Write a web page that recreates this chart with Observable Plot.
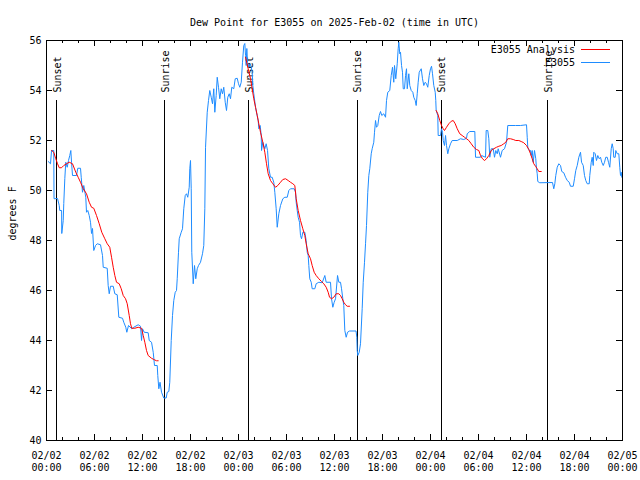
<!DOCTYPE html>
<html>
<head>
<meta charset="utf-8">
<script src="https://cdn.jsdelivr.net/npm/d3@7"></script>
<script src="https://cdn.jsdelivr.net/npm/@observablehq/plot@0.6"></script>
<style>
  html, body { margin: 0; padding: 0; background: #fff; }
  #chart { width: 640px; height: 480px; }
</style>
</head>
<body>
<div id="chart"></div>
<script>
// ---- Data (hours since 2025-02-02 00:00 UTC, dew point in °F) ----
const startUTC = Date.UTC(2025, 1, 2, 0, 0);
const endUTC = Date.UTC(2025, 1, 5, 0, 0);

const obsHours = [
0.21,0.5,0.63,0.91,0.94,1.38,1.59,1.66,1.89,1.91,2.09,2.16,2.29,2.41,2.59,2.75,2.91,3.04,3.13,3.25,
3.75,3.91,4.25,4.34,4.5,4.66,4.91,5.0,5.16,5.34,5.5,5.63,5.75,5.91,6.13,6.34,6.75,7.0,7.09,7.59,
7.71,7.84,8.0,8.34,8.54,8.84,9.04,9.5,9.66,9.91,10.04,10.25,10.66,10.91,11.46,11.75,11.88,12.0,12.21,12.71,
12.84,13.13,13.34,13.5,13.84,13.91,14.04,14.19,14.38,14.66,14.96,15.09,15.29,15.41,15.59,15.75,15.91,16.09,16.25,16.34,
16.5,16.59,16.84,17.0,17.16,17.34,17.5,17.66,17.84,17.91,18.0,18.09,18.16,18.34,18.5,18.66,18.84,19.0,19.25,19.5,
19.66,19.79,19.88,20.09,20.25,20.41,20.59,20.75,20.91,21.04,21.21,21.34,21.5,21.66,21.84,22.0,22.16,22.34,22.5,22.66,
22.84,23.0,23.16,23.41,23.59,23.84,24.0,24.16,24.34,24.5,24.66,24.79,24.88,24.96,25.04,25.13,25.29,25.5,25.71,25.79,
25.91,26.13,26.25,26.46,26.54,26.71,26.84,26.88,27.04,27.16,27.29,27.46,27.63,27.79,28.0,28.21,28.41,28.54,28.71,28.84,
29.04,29.25,29.54,29.79,30.09,30.29,30.5,30.96,31.13,31.21,31.34,31.46,31.63,31.75,31.88,32.04,32.29,32.46,32.59,32.71,
32.79,32.91,33.09,33.21,33.54,33.71,34.04,34.46,34.79,34.96,35.5,35.63,35.79,35.96,36.13,36.38,36.54,36.75,36.88,37.04,
37.16,37.29,37.46,37.63,37.88,38.69,38.79,38.84,38.91,39.09,39.25,39.46,39.59,39.75,39.88,40.0,40.16,40.29,40.41,40.59,
40.71,40.91,41.0,41.13,41.25,41.41,41.59,41.75,41.91,42.16,42.38,42.5,42.66,42.91,43.09,43.25,43.41,43.5,43.66,43.84,
43.96,44.04,44.16,44.25,44.38,44.5,44.59,44.75,44.88,45.0,45.09,45.29,45.41,45.59,45.79,45.91,46.09,46.21,46.34,46.46,
46.59,46.84,47.0,47.16,47.34,47.5,47.66,47.84,48.0,48.13,48.25,48.41,48.59,48.66,48.71,48.91,48.96,49.25,49.38,49.5,
49.59,49.75,49.88,50.0,50.16,50.29,50.5,50.71,51.34,51.75,52.16,52.5,52.59,52.91,53.54,53.63,54.25,54.38,54.88,54.96,
55.16,55.29,55.41,55.59,55.84,56.0,56.16,56.34,56.46,56.75,56.96,57.25,57.5,57.66,58.63,59.25,60.0,60.09,60.16,60.34,
60.5,60.59,60.71,60.84,61.0,61.16,61.25,61.34,61.41,61.66,63.25,63.41,63.54,63.66,63.84,64.04,64.25,64.41,64.66,64.88,
65.09,65.34,65.5,65.84,66.0,66.16,66.34,66.54,66.75,66.88,67.09,67.25,67.41,67.59,67.84,67.91,68.09,68.21,68.34,68.41,
68.59,68.75,68.91,69.09,69.25,69.41,69.59,69.75,69.91,70.09,70.25,70.41,70.59,70.71,70.84,70.91,71.09,71.16,71.34,71.54,
71.66,71.75,71.84,71.91
];
const obsValues = [
51.16,51.07,51.6,51.6,49.67,49.68,49.4,49.2,49.2,48.28,48.8,49.48,50.48,51.13,50.93,51.2,51.4,51.6,51.13,50.6,
50.6,50.89,50.89,50.53,49.93,50.2,49.73,49.13,49.2,49.0,48.73,48.28,48.48,47.6,47.8,47.87,47.83,47.4,46.93,46.89,
46.2,45.87,46.17,46.17,45.87,45.83,44.93,44.89,44.73,44.53,44.33,44.6,44.47,44.53,44.63,44.57,44.0,44.47,44.33,44.31,
44.0,43.93,43.53,43.0,43.0,42.6,42.07,42.33,41.93,41.7,41.7,41.93,41.96,42.33,44.0,45.0,45.6,45.93,46.0,46.47,
47.53,48.07,48.33,48.47,49.27,49.8,49.87,49.73,50.13,50.87,51.2,50.07,47.53,46.27,47.0,46.47,46.87,47.0,47.13,47.47,
47.8,49.27,51.73,53.13,53.6,54.0,53.73,53.47,54.07,53.13,53.8,54.53,54.13,53.67,54.07,53.87,54.13,53.53,53.2,53.73,
53.87,53.67,54.13,54.07,54.47,54.49,54.27,54.13,54.33,55.13,55.8,55.88,55.4,55.0,55.68,55.12,54.93,55.07,54.73,54.2,
53.87,53.33,53.13,52.8,52.47,52.6,52.2,51.6,51.93,51.8,51.67,51.87,51.6,50.87,50.53,50.53,50.33,49.93,49.27,48.53,
49.07,49.4,49.67,49.73,49.73,50.0,50.07,50.07,49.93,49.53,49.2,48.93,48.73,48.2,48.07,48.33,48.33,48.0,47.53,47.4,
47.0,46.47,46.33,46.07,46.07,46.27,46.33,46.31,46.6,46.33,46.33,45.67,45.33,45.53,45.67,46.6,46.33,46.33,46.07,45.67,
45.4,44.4,44.13,44.33,44.38,44.38,44.13,43.6,43.4,43.53,43.87,45.27,46.33,47.13,47.87,48.6,49.93,50.6,50.87,51.47,
51.67,51.93,52.33,52.8,52.53,52.6,53.0,53.16,53.0,53.07,52.93,53.6,53.93,54.0,54.6,54.93,54.33,55.0,54.47,55.07,
55.67,55.93,55.47,55.53,55.0,54.73,54.07,54.07,54.6,54.87,54.07,54.67,54.2,54.0,53.93,53.73,53.6,53.4,53.87,54.33,
54.73,54.87,54.47,54.2,54.33,54.27,54.13,54.6,54.87,54.97,54.67,54.2,53.93,53.6,53.2,53.0,52.2,52.2,52.47,52.33,
52.0,51.8,52.2,51.8,51.47,51.67,51.87,52.0,52.0,52.07,52.04,52.09,52.27,52.36,52.36,51.33,51.33,51.4,51.33,52.4,
52.4,52.07,51.33,51.67,51.67,51.33,51.6,51.47,51.67,51.33,51.6,51.67,51.93,52.6,52.6,52.6,52.63,52.13,51.73,51.6,
51.6,51.4,51.6,51.13,51.6,51.27,50.87,50.67,50.36,50.31,50.32,50.07,50.27,50.6,50.93,51.07,51.0,50.76,50.71,50.53,
50.4,50.33,50.17,50.17,50.47,50.8,51.0,51.33,51.53,51.13,51.0,50.6,50.4,50.27,50.27,50.6,51.13,51.33,51.0,51.53,
51.47,51.2,51.4,51.27,51.33,51.13,51.0,51.13,51.33,51.33,51.13,50.93,51.67,51.87,51.67,51.33,51.33,51.6,51.47,51.47,
50.93,50.6,50.73,50.53
];

// Analysis runs (three separate segments)
const ana1Hours = [0.63,0.91,1.16,1.38,1.59,1.88,2.16,2.5,2.84,3.25,3.66,3.96,4.25,4.59,5.0,5.34,5.63,5.91,6.25,6.59,6.91,7.29,7.59,7.91,8.13,8.34,8.54,8.75,9.09,9.34,9.59,9.88,10.09,10.34,10.5,10.66,11.04,11.46,11.88,12.09,12.29,12.5,12.71,13.13,13.41,13.75,13.96];
const ana1Values = [51.6,51.53,51.27,51.07,50.91,50.91,51.0,51.07,51.13,51.07,50.73,50.53,50.33,50.07,49.87,49.53,49.33,49.29,49.0,48.67,48.33,48.07,47.87,47.73,47.33,46.93,46.6,46.33,46.27,46.07,45.8,45.67,45.47,45.0,44.67,44.49,44.49,44.53,44.49,44.2,43.93,43.6,43.4,43.29,43.24,43.19,43.19];
const ana2Hours = [24.88,25.21,25.5,25.71,25.91,26.13,26.34,26.54,26.75,27.04,27.29,27.5,27.71,28.0,28.29,28.63,28.91,29.25,29.54,29.88,30.21,30.5,30.79,31.04,31.21,31.46,31.75,32.04,32.29,32.46,32.71,33.0,33.21,33.46,33.71,34.04,34.38,34.66,34.96,35.21,35.38,35.63,35.91,36.21,36.54,36.75,36.96,37.16,37.38,37.59,37.88];
const ana2Values = [55.33,54.87,54.47,54.07,53.67,53.33,53.0,52.67,52.33,51.93,51.53,51.07,50.67,50.4,50.27,50.13,50.2,50.33,50.44,50.47,50.4,50.33,50.27,50.2,49.67,49.2,48.8,48.47,48.2,47.87,47.47,47.27,47.0,46.73,46.6,46.47,46.36,46.27,46.13,45.93,45.73,45.67,45.73,45.87,45.87,45.8,45.67,45.53,45.43,45.37,45.37];
const ana3Hours = [48.71,48.91,49.16,49.38,49.59,49.75,50.0,50.29,50.59,50.84,51.09,51.34,51.66,51.96,52.25,52.5,52.79,53.09,53.41,53.75,54.04,54.25,54.5,54.75,55.0,55.29,55.59,55.91,56.25,56.54,56.84,57.16,57.41,57.66,58.0,58.34,58.66,59.04,59.34,59.66,60.0,60.29,60.5,60.71,60.91,61.13,61.34,61.54,61.84];
const ana3Values = [53.2,53.07,52.8,52.6,52.47,52.4,52.53,52.67,52.77,52.8,52.67,52.47,52.27,52.2,52.13,52.07,52.0,51.87,51.73,51.64,51.6,51.4,51.27,51.2,51.27,51.4,51.6,51.67,51.73,51.77,51.8,51.87,51.93,52.07,52.07,52.04,52.0,52.0,51.96,51.91,51.8,51.64,51.47,51.27,51.07,50.97,50.87,50.76,50.76];

// Sunrise / sunset events
const eventHours = [1.25, 14.8, 25.3, 38.83, 49.33, 62.67];
const eventLabels = ["Sunset", "Sunrise", "Sunset", "Sunrise", "Sunset", "Sunrise"];

const yTicks = [40, 42, 44, 46, 48, 50, 52, 54, 56];
const titleText = "Dew Point for E3055 on 2025-Feb-02 (time in UTC)";
const yLabel = "degrees F";
const seriesNames = ["E3055 Analysis", "E3055"];
const seriesColors = ["#ff0000", "#1e8cff"];

// ---- Build tables ----
const toDate = h => new Date(startUTC + h * 3600e3);
const obs = obsHours.map((h, i) => ({t: toDate(h), v: obsValues[i]}));
const ana = [];
[[ana1Hours, ana1Values], [ana2Hours, ana2Values], [ana3Hours, ana3Values]].forEach(([hs, vs], r) =>
  hs.forEach((h, i) => ana.push({t: toDate(h), v: vs[i], run: r})));
const events = eventHours.map((h, i) => ({t: toDate(h), label: eventLabels[i]}));

const majorTicks = d3.utcHour.every(6).range(new Date(startUTC), new Date(endUTC + 1));
const minorTicks = d3.utcHour.every(2).range(new Date(startUTC), new Date(endUTC + 1));

const W = 640, H = 480, mL = 46, mR = 18, mT = 40, mB = 40;
const frameH = H - mT - mB, frameW = W - mL - mR;
const font = "DejaVu Sans Mono, monospace";
const crisp = {shapeRendering: "crispEdges"};

const legendMark = () => {
  const g = d3.create("svg:g").attr("font-family", font).attr("font-size", 10);
  seriesNames.forEach((name, i) => {
    const y = 49.5 + i * 13;
    g.append("text").attr("x", 575).attr("y", y).attr("dy", "0.32em")
      .attr("text-anchor", "end").attr("fill", "black").text(name);
    g.append("line").attr("x1", 581).attr("x2", 610).attr("y1", y).attr("y2", y)
      .attr("stroke", seriesColors[i]).attr("stroke-width", 1).attr("shape-rendering", "crispEdges");
  });
  return g.node();
};

const chart = Plot.plot({
  width: W, height: H,
  marginLeft: mL, marginRight: mR, marginTop: mT, marginBottom: mB,
  style: {fontFamily: font, fontSize: "10px", background: "white", color: "black"},
  x: {type: "utc", domain: [new Date(startUTC), new Date(endUTC)]},
  y: {domain: [40, 56]},
  marks: [
    // ticks (inward, gnuplot style)
    Plot.tickX(majorTicks, {x: d => d, insetTop: frameH - 6, stroke: "black", ...crisp}),
    Plot.tickX(majorTicks, {x: d => d, insetBottom: frameH - 6, stroke: "black", ...crisp}),
    Plot.tickX(minorTicks, {x: d => d, insetTop: frameH - 3, stroke: "black", ...crisp}),
    Plot.tickX(minorTicks, {x: d => d, insetBottom: frameH - 3, stroke: "black", ...crisp}),
    Plot.tickY(yTicks, {y: d => d, insetRight: frameW - 6, stroke: "black", ...crisp}),
    Plot.tickY(yTicks, {y: d => d, insetLeft: frameW - 6, stroke: "black", ...crisp}),
    Plot.axisX(majorTicks, {
      anchor: "bottom", tickSize: 0, tickPadding: 10, label: null, lineHeight: 1.2,
      tickFormat: d => d3.utcFormat("%m/%d")(d) + "\n" + d3.utcFormat("%H:%M")(d)
    }),
    Plot.axisY(yTicks, {anchor: "left", tickSize: 0, tickPadding: 5, label: null}),
    // event lines + labels
    Plot.ruleX(events, {x: "t", insetTop: 60, stroke: "black", strokeWidth: 1, ...crisp}),
    Plot.text(events, {x: "t", text: "label", frameAnchor: "top", rotate: -90,
      textAnchor: "start", dy: 52, dx: -3, fill: "black"}),
    // series
    Plot.line(obs, {x: "t", y: "v", stroke: seriesColors[1], strokeWidth: 1}),
    Plot.line(ana, {x: "t", y: "v", z: "run", stroke: seriesColors[0], strokeWidth: 1}),
    Plot.frame({stroke: "black", ...crisp}),
    // title & y label
    Plot.text([titleText], {frameAnchor: "top", dy: -22, text: d => d, fill: "black"}),
    Plot.text([yLabel], {frameAnchor: "left", dx: -34, rotate: -90, text: d => d, fill: "black"}),
    legendMark
  ]
});
document.getElementById("chart").appendChild(chart);
</script>
</body>
</html>
